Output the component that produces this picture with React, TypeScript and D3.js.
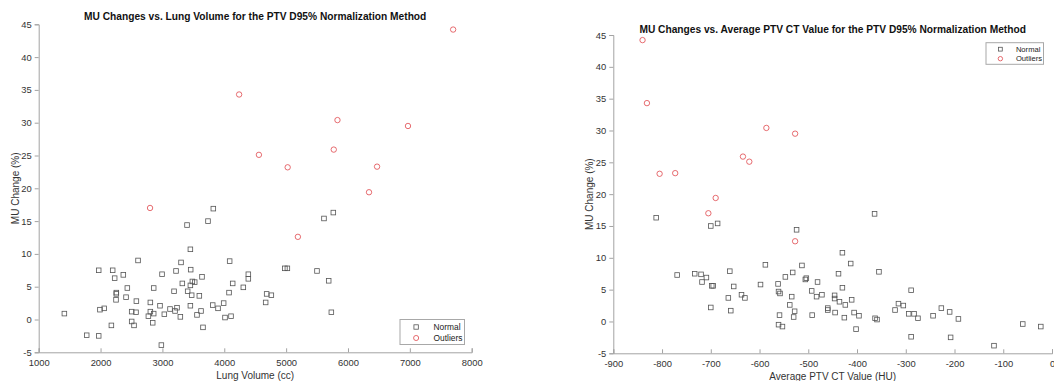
import React, { useEffect, useRef } from 'react';
import * as d3 from 'd3';

type Pt = [number, number];

// Left plot: lung volume (cc) vs MU change (%)
const lungNormal: Pt[] = [
  [1415, 0.9], [1776, -2.4], [1970, -2.5], [1970, 7.5], [1990, 1.5], [2060, 1.7], [2175, -0.9],
  [2196, 7.5], [2228, 6.3], [2255, 4.1], [2255, 3.9], [2250, 3.0], [2368, 6.8], [2412, 3.4],
  [2433, 4.8], [2503, 1.2], [2503, -0.3], [2541, -0.9], [2573, 1.1], [2579, 2.8], [2606, 9.0],
  [2773, 0.5], [2805, 2.6], [2805, 1.2], [2843, -0.5], [2859, 0.9], [2859, 4.8], [2961, 2.1],
  [2983, -3.9], [2994, 6.9], [3031, 0.8], [3123, 1.6], [3188, 4.3], [3204, 1.3], [3220, 7.4],
  [3236, 1.8], [3290, 0.4], [3301, 8.7], [3322, 5.5], [3398, 14.4], [3408, 4.3], [3452, 10.7],
  [3457, 7.6], [3452, 5.2], [3452, 2.1], [3473, 3.7], [3484, 5.8], [3522, 5.7], [3559, 0.7],
  [3597, 3.6], [3624, 1.3], [3640, 6.5], [3656, -1.2], [3737, 15.0], [3813, 2.2], [3823, 16.9],
  [3899, 1.7], [3990, 2.5], [4012, 0.3], [4077, 4.1], [4087, 8.9], [4109, 0.5], [4136, 5.5],
  [4308, 4.9], [4389, 6.9], [4389, 6.2], [4669, 2.6], [4685, 3.9], [4761, 3.7], [4980, 7.8],
  [5020, 7.8], [5499, 7.4], [5612, 15.4], [5688, 5.9], [5731, 1.1], [5763, 16.3],
];
const lungOutliers: Pt[] = [
  [2800, 17.0], [4240, 34.3], [4560, 25.1], [5025, 23.2], [5190, 12.6], [5770, 25.9],
  [5830, 30.4], [6340, 19.4], [6470, 23.3], [6970, 29.5], [7700, 44.2],
];

// Right plot: average PTV CT value (HU) vs MU change (%)
const ctNormal: Pt[] = [
  [-812, 16.3], [-769, 7.3], [-733, 7.5], [-720, 7.4], [-709, 6.9], [-718, 6.2], [-698, 5.6],
  [-695, 5.6], [-700, 2.2], [-700, 15.0], [-686, 15.4], [-661, 7.9], [-664, 3.7], [-659, 1.7],
  [-653, 5.5], [-637, 4.2], [-630, 3.7], [-598, 5.8], [-588, 8.9], [-562, 5.9], [-561, 4.7],
  [-558, 4.4], [-561, -0.5], [-559, 1.0], [-553, -0.8], [-547, 7.0], [-538, 2.6], [-534, 3.9],
  [-532, 7.7], [-530, 0.7], [-528, 1.6], [-524, 14.4], [-513, 8.8], [-506, 6.6], [-504, 6.8],
  [-493, 4.8], [-492, 1.0], [-483, 3.9], [-481, 6.2], [-472, 4.2], [-460, 2.1], [-460, 1.8],
  [-446, 4.1], [-446, 3.6], [-445, 1.4], [-438, 7.5], [-436, 3.1], [-430, 10.8], [-430, 5.3],
  [-426, 0.6], [-424, 2.6], [-413, 9.1], [-411, 3.4], [-406, 1.4], [-402, -1.2], [-396, 0.9],
  [-364, 16.9], [-363, 0.5], [-359, 0.3], [-355, 7.8], [-322, 1.8], [-315, 2.8], [-305, 2.5],
  [-294, 1.2], [-289, 4.9], [-289, -2.4], [-283, 1.2], [-275, 0.5], [-244, 0.9], [-227, 2.1],
  [-210, 1.5], [-208, -2.5], [-192, 0.4], [-119, -3.8], [-60, -0.4], [-23, -0.8],
];
const ctOutliers: Pt[] = [
  [-840, 44.2], [-831, 34.3], [-805, 23.2], [-773, 23.3], [-705, 17.0], [-690, 19.4],
  [-634, 25.9], [-621, 25.1], [-586, 30.4], [-527, 29.5], [-527, 12.6],
];

const yTicks = [-5, 0, 5, 10, 15, 20, 25, 30, 35, 40, 45];
const lungTicks = [1000, 2000, 3000, 4000, 5000, 6000, 7000, 8000];
const ctTicks = [-900, -800, -700, -600, -500, -400, -300, -200, -100, 0];
const legendLabels = ['Normal', 'Outliers'];

const FONT = 'Liberation Sans, Arial, sans-serif';
const AXIS_COLOR = '#a3a3a3';
const TEXT_COLOR = '#333333';
const NORMAL_COLOR = '#555555';
const OUTLIER_COLOR = '#e0474c';

// trait d'union simple comme MATLAB (pas le signe moins unicode de d3.format)
const plainFormat = (d: d3.NumberValue) => String(d);

interface PanelSpec {
  title: string;
  xLabel: string;
  normal: Pt[];
  outliers: Pt[];
  xTicks: number[];
  xDomain: [number, number];
  left: number;
  right: number;
  top: number;
  bottom: number;
  titleY: number;
  yLabelX: number;
  legend: { x: number; y: number; w: number; h: number; fontSize: number; marker: number };
}

function drawPanel(svg: d3.Selection<SVGSVGElement, unknown, null, undefined>, p: PanelSpec) {
  const g = svg.append('g');

  const x = d3.scaleLinear().domain(p.xDomain).range([p.left, p.right]);
  const y = d3.scaleLinear().domain([-5, 45]).range([p.bottom, p.top]);

  // axes (gauche + bas seulement)
  const yAxis = d3.axisLeft(y).tickValues(yTicks).tickSize(4).tickPadding(3).tickFormat(plainFormat);
  const yg = g.append('g').attr('transform', `translate(${p.left},0)`).call(yAxis);

  const xAxis = d3.axisBottom(x).tickValues(p.xTicks).tickSize(-4).tickPadding(7).tickFormat(plainFormat);
  const xg = g.append('g').attr('transform', `translate(0,${p.bottom})`).call(xAxis);

  [yg, xg].forEach(a => {
    a.select('.domain').attr('stroke', AXIS_COLOR).attr('stroke-width', 1);
    a.selectAll('.tick line').attr('stroke', AXIS_COLOR);
    a.selectAll('.tick text')
      .attr('fill', TEXT_COLOR)
      .style('font-family', FONT)
      .style('font-size', '9.4px');
  });

  // titre
  g.append('text')
    .attr('x', (p.left + p.right) / 2)
    .attr('y', p.titleY)
    .attr('text-anchor', 'middle')
    .style('font-family', FONT)
    .style('font-size', '10.2px')
    .style('font-weight', 'bold')
    .attr('fill', '#111')
    .text(p.title);

  g.append('text')
    .attr('x', (p.left + p.right) / 2)
    .attr('y', p.bottom + 27)
    .attr('text-anchor', 'middle')
    .style('font-family', FONT)
    .style('font-size', '10px')
    .attr('fill', TEXT_COLOR)
    .text(p.xLabel);

  g.append('text')
    .attr('transform', `translate(${p.yLabelX},${(p.top + p.bottom) / 2}) rotate(-90)`)
    .attr('text-anchor', 'middle')
    .style('font-family', FONT)
    .style('font-size', '10px')
    .attr('fill', TEXT_COLOR)
    .text('MU Change (%)');

  // points
  const s = 4.6;
  g.selectAll('.sq')
    .data(p.normal)
    .enter()
    .append('rect')
    .attr('x', d => x(d[0]) - s / 2)
    .attr('y', d => y(d[1]) - s / 2)
    .attr('width', s)
    .attr('height', s)
    .attr('fill', 'none')
    .attr('stroke', NORMAL_COLOR)
    .attr('stroke-width', 0.8);

  g.selectAll('.ci')
    .data(p.outliers)
    .enter()
    .append('circle')
    .attr('cx', d => x(d[0]))
    .attr('cy', d => y(d[1]))
    .attr('r', 2.7)
    .attr('fill', 'none')
    .attr('stroke', OUTLIER_COLOR)
    .attr('stroke-width', 0.8);

  // légende
  const L = p.legend;
  const lg = g.append('g').attr('transform', `translate(${L.x},${L.y})`);
  lg.append('rect')
    .attr('width', L.w)
    .attr('height', L.h)
    .attr('fill', '#fff')
    .attr('stroke', '#a8a8a8')
    .attr('stroke-width', 1);
  const rowY = [L.h * 0.3, L.h * 0.74];
  const mx = L.w * 0.25;
  const ls = L.marker;
  lg.append('rect')
    .attr('x', mx - ls / 2)
    .attr('y', rowY[0] - ls / 2)
    .attr('width', ls)
    .attr('height', ls)
    .attr('fill', 'none')
    .attr('stroke', NORMAL_COLOR)
    .attr('stroke-width', 0.8);
  lg.append('circle')
    .attr('cx', mx)
    .attr('cy', rowY[1])
    .attr('r', ls * 0.58)
    .attr('fill', 'none')
    .attr('stroke', OUTLIER_COLOR)
    .attr('stroke-width', 0.8);
  legendLabels.forEach((t, i) => {
    lg.append('text')
      .attr('x', L.w * 0.52)
      .attr('y', rowY[i] + L.fontSize * 0.36)
      .style('font-family', FONT)
      .style('font-size', `${L.fontSize}px`)
      .attr('fill', '#222')
      .text(t);
  });
}

export default function App() {
  const svgRef = useRef<SVGSVGElement>(null);

  useEffect(() => {
    if (!svgRef.current) return;
    const svg = d3.select(svgRef.current);
    svg.selectAll('*').remove();

    drawPanel(svg, {
      title: 'MU Changes vs. Lung Volume for the PTV D95% Normalization Method',
      xLabel: 'Lung Volume (cc)',
      normal: lungNormal,
      outliers: lungOutliers,
      xTicks: lungTicks,
      xDomain: [1000, 8000],
      left: 38.7,
      right: 471.7,
      top: 24.3,
      bottom: 352.3,
      titleY: 20.3,
      yLabelX: 19,
      legend: { x: 400, y: 319.5, w: 64.5, h: 25, fontSize: 8.4, marker: 4.4 },
    });

    drawPanel(svg, {
      title: 'MU Changes vs. Average PTV CT Value for the PTV D95% Normalization Method',
      xLabel: 'Average PTV CT Value (HU)',
      normal: ctNormal,
      outliers: ctOutliers,
      xTicks: ctTicks,
      xDomain: [-900, 0],
      left: 613.3,
      right: 1052,
      top: 35,
      bottom: 353.3,
      titleY: 32.5,
      yLabelX: 593,
      legend: { x: 986, y: 42.7, w: 57.5, h: 21.6, fontSize: 7.6, marker: 3.8 },
    });
  }, []);

  return (
    <svg
      ref={svgRef}
      width={1054}
      height={381}
      style={{ position: 'absolute', left: 0, top: 0, background: '#fff' }}
    />
  );
}
